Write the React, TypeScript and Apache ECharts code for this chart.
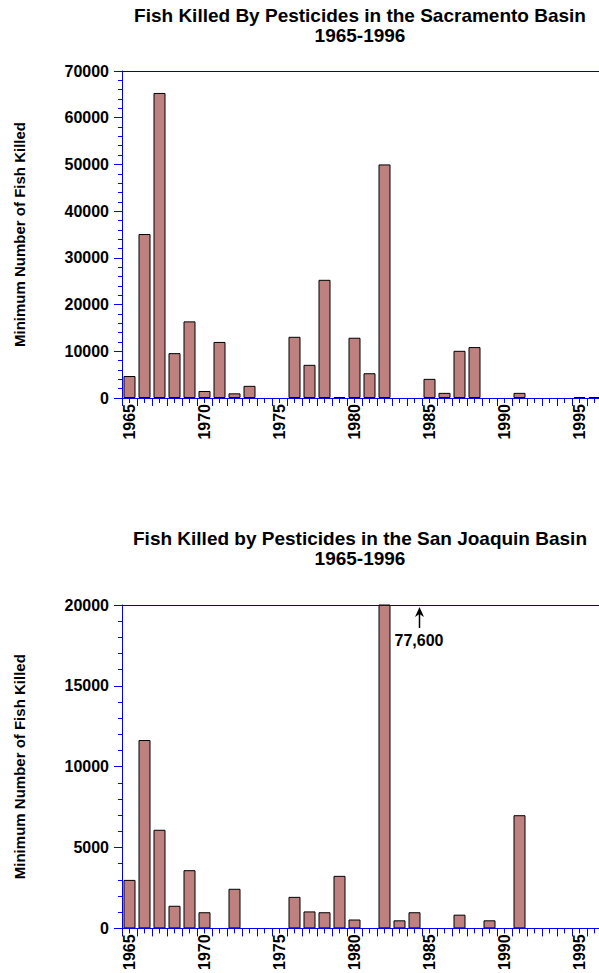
import React, { useEffect, useRef } from "react";
import * as echarts from "echarts";

const years = [
  "1965", "1966", "1967", "1968", "1969", "1970", "1971", "1972", "1973", "1974",
  "1975", "1976", "1977", "1978", "1979", "1980", "1981", "1982", "1983", "1984",
  "1985", "1986", "1987", "1988", "1989", "1990", "1991", "1992", "1993", "1994",
  "1995", "1996",
];

const sacramento = [
  4700, 35100, 65300, 9600, 16400, 1500, 12000, 1000, 2600, 0,
  0, 13100, 7100, 25300, 200, 12900, 5300, 50000, 0, 0,
  4100, 1100, 10100, 10900, 0, 0, 1100, 0, 0, 0,
  200, 200,
];

const sanJoaquin = [
  3000, 11650, 6100, 1400, 3600, 1000, 0, 2450, 0, 0,
  0, 1950, 1050, 1000, 3250, 550, 0, 77600, 500, 1000,
  0, 0, 850, 0, 500, 0, 7000, 0, 0, 0,
  0, 0,
];

const sacTitle = "Fish Killed By Pesticides in the Sacramento Basin\n1965-1996";
const sjTitle = "Fish Killed by Pesticides in the San Joaquin Basin\n1965-1996";
const yName = "Minimum Number of Fish Killed";
const offChartLabel = "77,600";

const FONT = "'Liberation Sans', Arial, Helvetica, sans-serif";
const AXIS_BLUE = "#0000f0";
const TOP_BLUE = "#0000a8";
const BAR = "#bf8080";

function barData(vals: number[]) {
  return vals.map((v) => (v === 0 ? { value: 0, itemStyle: { borderWidth: 0 } } : v));
}

function xAxesFor(gridIndex: number) {
  return [
    {
      type: "category",
      gridIndex,
      position: "bottom",
      data: years,
      z: 5,
      axisLine: { show: true, lineStyle: { color: AXIS_BLUE, width: 1 } },
      axisTick: { show: true, interval: 0, alignWithLabel: false, length: 8, lineStyle: { color: AXIS_BLUE } },
      axisLabel: {
        show: true,
        interval: 4,
        rotate: 90,
        margin: 6,
        color: "#000",
        fontFamily: FONT,
        fontWeight: "bold",
        fontSize: 16,
      },
      splitLine: { show: false },
    },
    {
      type: "category",
      gridIndex,
      position: "bottom",
      data: years,
      z: 5,
      axisLine: { show: false },
      axisTick: { show: true, interval: 0, alignWithLabel: true, length: 5, lineStyle: { color: AXIS_BLUE } },
      axisLabel: { show: false },
      splitLine: { show: false },
    },
    {
      type: "category",
      gridIndex,
      position: "top",
      data: years,
      z: 5,
      axisLine: { show: true, lineStyle: { color: TOP_BLUE, width: 1 } },
      axisTick: { show: false },
      axisLabel: { show: false },
      splitLine: { show: false },
    },
  ];
}

function yAxisFor(gridIndex: number, max: number, interval: number) {
  return {
    type: "value",
    gridIndex,
    min: 0,
    max,
    interval,
    z: 5,
    name: yName,
    nameLocation: "middle",
    nameGap: 95,
    nameTextStyle: { color: "#000", fontFamily: FONT, fontWeight: "bold", fontSize: 15 },
    axisLine: { show: true, lineStyle: { color: AXIS_BLUE, width: 1 } },
    axisTick: { show: true, length: 8, lineStyle: { color: AXIS_BLUE } },
    minorTick: { show: true, splitNumber: 5, length: 4, lineStyle: { color: AXIS_BLUE } },
    axisLabel: {
      color: "#000",
      fontFamily: FONT,
      fontWeight: "bold",
      fontSize: 16,
      margin: 13,
      formatter: (v: number) => String(v),
    },
    splitLine: { show: false },
    minorSplitLine: { show: false },
  };
}

const titleStyle = { color: "#000", fontFamily: FONT, fontWeight: "bold", fontSize: 19, lineHeight: 20 };

export default function App() {
  const ref = useRef<HTMLDivElement>(null);

  useEffect(() => {
    if (!ref.current) return;
    const chart = echarts.init(ref.current, null, { renderer: "svg" });
    const option: any = {
      animation: false,
      backgroundColor: "#fff",
      title: [
        { text: sacTitle, left: 360, top: 5, textAlign: "center", padding: 0, textStyle: titleStyle },
        { text: sjTitle, left: 360, top: 528, textAlign: "center", padding: 0, textStyle: titleStyle },
      ],
      grid: [
        { left: 122, top: 71, width: 480, height: 327, containLabel: false },
        { left: 122, top: 605, width: 480, height: 326, containLabel: false },
      ],
      xAxis: [...xAxesFor(0), ...xAxesFor(1)],
      yAxis: [yAxisFor(0, 70000, 10000), yAxisFor(1, 20000, 5000)],
      series: [
        {
          type: "bar",
          xAxisIndex: 0,
          yAxisIndex: 0,
          data: barData(sacramento),
          barWidth: 12,
          clip: true,
          itemStyle: { color: BAR, borderColor: "#000", borderWidth: 1 },
        },
        {
          type: "bar",
          xAxisIndex: 3,
          yAxisIndex: 1,
          data: barData(sanJoaquin),
          barWidth: 12,
          clip: true,
          itemStyle: { color: BAR, borderColor: "#000", borderWidth: 1 },
        },
      ],
      graphic: [
        {
          type: "line",
          shape: { x1: 419.5, y1: 613, x2: 419.5, y2: 628 },
          style: { stroke: "#000", lineWidth: 1.5 },
          z: 10,
        },
        {
          type: "polygon",
          shape: { points: [[419.5, 607], [415, 617], [419.5, 614], [424, 617]] },
          style: { fill: "#000" },
          z: 10,
        },
        {
          type: "text",
          x: 419,
          y: 640,
          z: 10,
          style: {
            text: offChartLabel,
            fill: "#000",
            font: `bold 16px ${FONT}`,
            textAlign: "center",
            textVerticalAlign: "middle",
          },
        },
      ],
    };
    chart.setOption(option);
    return () => chart.dispose();
  }, []);

  return (
    <div style={{ position: "absolute", left: 0, top: 0, width: 599, height: 973, overflow: "hidden", background: "#fff" }}>
      <div ref={ref} style={{ width: 604, height: 973 }} />
    </div>
  );
}
